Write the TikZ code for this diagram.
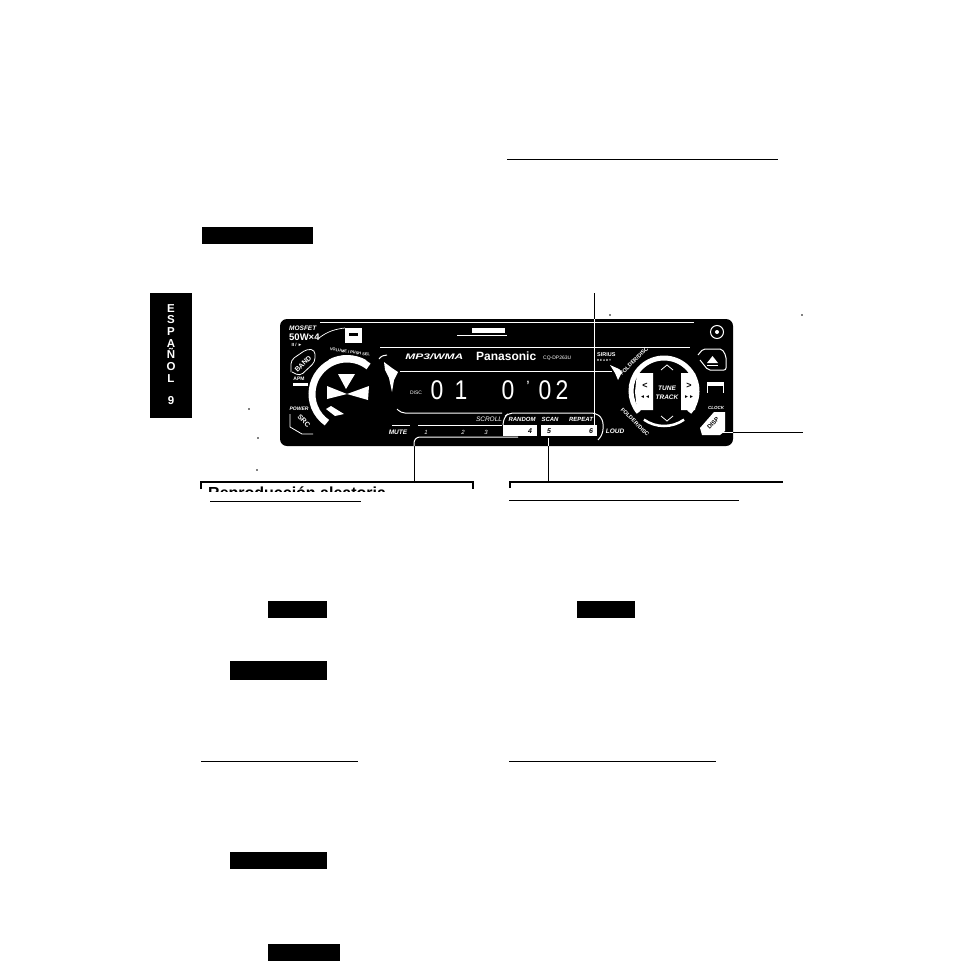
\documentclass[tikz,border=0pt]{standalone}
\usepackage{fontspec}
\setmainfont{Liberation Sans}
\usetikzlibrary{positioning,calc}
\tikzset{
  bar/.style={fill=black,draw=none,inner sep=0pt,minimum height=#1},
  bar/.default=17pt,
  rulerline/.style={line width=1pt},
  leader/.style={white,line width=1pt,rounded corners=6pt},
  panellabel/.style={text=white,inner sep=0pt,font=\bfseries\fontsize{5}{6}\selectfont},
  keylabel/.style={text=black,inner sep=0pt,font=\itshape\bfseries\fontsize{5.5}{6}\selectfont},
  digit/.style={text=white,inner sep=0pt,xscale=.85,font=\fontsize{27}{27}\selectfont},
  speck/.style={circle,fill=black,inner sep=0pt,minimum size=1.6pt}
}
\begin{document}
\begin{tikzpicture}[x=1pt,y=-1pt]
\useasboundingbox (0,0) rectangle (954,969);
% black bars of the page
\node[bar,minimum width=111pt,anchor=north west] (barA) at (202,227) {};
\node[bar,minimum width=59pt,anchor=north west] (barB) at (268,601) {};
\node[bar,minimum width=97pt,anchor=north west,minimum height=19pt] (barC) at (230,661) {};
\node[bar,minimum width=58pt,anchor=north west] (barD) at (577,601) {};
\node[bar,minimum width=97pt,anchor=north west] (barE) at (230,852) {};
\node[bar,minimum width=72pt,anchor=north west] (barF) at (268,944) {};
% rules
\draw[rulerline] (507,159) -- (778,159);
\draw[rulerline] (210,501) -- (361,501);
\draw[rulerline] (509,500) -- (739,500);
\draw[rulerline] (201,761) -- (358,761);
\draw[rulerline] (509,761) -- (716,761);
% side tab
\node[fill=black,inner sep=0pt,minimum width=42pt,minimum height=125pt,anchor=north west] (tab) at (150,293) {};
\node[text=white,inner sep=0pt,align=center,font=\bfseries\fontsize{11.5}{11.7}\selectfont,anchor=north] (tabtext) at (171,304)
  {E\\S\\P\\A\\Ñ\\O\\L\\[10pt]9};
% specks
\node[speck] (s1) at (249,409) {};
\node[speck] (s2) at (258,438) {};
\node[speck] (s3) at (257,470) {};
\node[speck] (s4) at (610,315) {};
\node[speck] (s5) at (802,315) {};
% face plate
\fill[black,rounded corners=7pt] (280,319) rectangle (733,446);
\draw[white,line width=.8pt] (320,322.5) -- (694,322.5);
\draw[white,line width=.8pt] (380,347) -- (690,347);
\draw[white,line width=.8pt] (400,371) -- (612,371);
\draw[white,line width=1pt,rounded corners=4pt] (397,409) -- (401,413) -- (502,413);
\fill[white] (472,328) rectangle (505,333);
\draw[white,line width=.8pt] (457,335) -- (507,335);
\fill[white] (345,328) rectangle (362,343);
\fill[black] (349,333) rectangle (358,336);
\draw[white,line width=.7pt] (319,338) .. controls (328,331) and (336,329) .. (345,328);
% splashes beside the knob and the ring
\fill[white] (384,362) -- (392,368) -- (398,372) -- (394,380) -- (392,392) -- (389,378) -- (385,370) -- cycle;
\draw[white,line width=1pt] (379,359) .. controls (381,356) and (384,355) .. (387,355);
\fill[white] (610,365) -- (619,369) -- (622,372) -- (618,380) -- (615,373) -- cycle;
% left knob
\coordinate (knobc) at (347,394);
\draw[white,line width=7pt] (knobc) ++(-52:35) arc (-52:-235:35);
\draw[white,line width=2pt] (knobc) ++(-60:38) arc (-60:-118:38);
\fill[white] (knobc) -- ++(-20,-8) -- ++(0,13) -- cycle;
\fill[white] (knobc) -- ++(22,-8) -- ++(-1,14) -- cycle;
\fill[white] (knobc) ++(-1,-5) -- ++(-8,-15) -- ++(17,0) -- cycle;
\fill[white] (331,406) -- (344,414) -- (335,416) -- (326,409) -- cycle;
% left column
\node[panellabel,anchor=west,font=\itshape\bfseries\fontsize{6.5}{7}\selectfont] (mosfet) at (289,328) {MOSFET};
\node[panellabel,anchor=west,font=\bfseries\fontsize{9.5}{9}\selectfont] (watts) at (289,337) {50W×4};
\node[panellabel,font=\bfseries\fontsize{4.5}{5}\selectfont] (pause) at (297,345) {II / ►};
\node[panellabel,anchor=center,rotate=45,font=\bfseries\fontsize{7}{7}\selectfont] (band) at (303,364) {BAND};
\draw[white,line width=.8pt,rounded corners=4pt] (291,372) -- (291,360) -- (307,349) -- (315,350) -- (315,362) -- (300,376) -- (292,372);
\node[panellabel] (apm) at (299,379) {APM};
\fill[white] (293,383) rectangle (308,386);
\node[panellabel,font=\itshape\bfseries\fontsize{5}{6}\selectfont] (power) at (299,409) {POWER};
\node[panellabel,rotate=-45,font=\bfseries\fontsize{7}{7}\selectfont] (src) at (304,421) {SRC};
\draw[white,line width=.8pt] (290,414) -- (290,427) -- (302,434) -- (313,434);
\node[panellabel,rotate=-8,font=\bfseries\fontsize{4}{5}\selectfont] (vol) at (350,352) {VOLUME / PUSH SEL};
% display
\node[panellabel,font=\itshape\bfseries\fontsize{8}{8}\selectfont,anchor=west,xscale=1.5] (mp3) at (405,357) {MP3/WMA};
\node[panellabel,font=\bfseries\fontsize{12}{12}\selectfont,anchor=west] (brand) at (476,356) {Panasonic};
\node[panellabel,font=\fontsize{5}{5}\selectfont,anchor=west] (model) at (543,358) {CQ-DP263U};
\node[panellabel,font=\bfseries\fontsize{5.5}{6}\selectfont,align=left,anchor=west] (sirius) at (597,357) {SIRIUS\\[-1pt]{\fontsize{3}{3}\selectfont R E A D Y}};
\node[panellabel,font=\fontsize{5}{5}\selectfont] (disc) at (416,393) {DISC};
\node[digit] (d1) at (437,390) {0};
\node[digit] (d2) at (461,390) {1};
\node[digit] (d3) at (508,390) {0};
\node[digit,font=\bfseries\fontsize{12}{12}\selectfont] (d4) at (528,385) {'};
\node[digit] (d5) at (545,390) {0};
\node[digit] (d6) at (562,390) {2};
% row of presets
\node[panellabel,font=\itshape\fontsize{6.5}{7}\selectfont] (scroll) at (489,419) {SCROLL};
\node[panellabel,font=\itshape\bfseries\fontsize{6.5}{7}\selectfont] (mute) at (398,432) {MUTE};
\node[panellabel,font=\itshape\fontsize{6}{6}\selectfont] (k1) at (426,432) {1};
\node[panellabel,font=\itshape\fontsize{6}{6}\selectfont] (k2) at (463,432) {2};
\node[panellabel,font=\itshape\fontsize{6}{6}\selectfont] (k3) at (486,432) {3};
\draw[white,line width=.7pt] (392,425) -- (410,425);
\draw[white,line width=.7pt] (418,425) -- (502,425);
\draw[white,line width=1pt,rounded corners=5pt] (503,425) -- (504,417) -- (509,413) -- (596,413) -- (603,419) -- (603,434) -- (598,440);
\fill[white] (503,425) rectangle (537,436);
\fill[white] (541,425) rectangle (597,436);
\node[panellabel,font=\itshape\bfseries\fontsize{6}{6}\selectfont] (random) at (522,419) {RANDOM};
\node[panellabel,font=\itshape\bfseries\fontsize{6}{6}\selectfont] (scan) at (550,419) {SCAN};
\node[panellabel,font=\itshape\bfseries\fontsize{6}{6}\selectfont] (repeat) at (581,419) {REPEAT};
\node[keylabel,font=\itshape\bfseries\fontsize{7}{7}\selectfont] (k4) at (530,431) {4};
\node[keylabel,font=\itshape\bfseries\fontsize{7}{7}\selectfont] (k5) at (549,431) {5};
\node[keylabel,font=\itshape\bfseries\fontsize{7}{7}\selectfont] (k6) at (591,431) {6};
\node[panellabel,font=\itshape\bfseries\fontsize{6.5}{7}\selectfont] (loud) at (615,431) {LOUD};
% right ring
\coordinate (ringc) at (664,391);
\draw[white,line width=5pt] (ringc) ++(40:33) arc (40:-220:33);
\draw[white,line width=2.5pt] (ringc) ++(-235:35) arc (-235:-305:35);
\fill[white] (637,373) -- (653,373) -- (653,410) -- (637,410) -- (635,392) -- cycle;
\fill[white] (681,373) -- (695,373) -- (698,392) -- (695,410) -- (681,410) -- cycle;
\node[keylabel,font=\bfseries\fontsize{9}{9}\selectfont] (prevt) at (645,386) {<};
\node[keylabel,font=\bfseries\fontsize{5}{5}\selectfont] (prevs) at (645,397) {◄◄};
\node[keylabel,font=\bfseries\fontsize{9}{9}\selectfont] (nextt) at (689,386) {>};
\node[keylabel,font=\bfseries\fontsize{5}{5}\selectfont] (nexts) at (689,397) {►►};
\node[panellabel,font=\itshape\bfseries\fontsize{6.5}{7}\selectfont] (tune) at (667,388) {TUNE};
\node[panellabel,font=\itshape\bfseries\fontsize{6.5}{7}\selectfont] (track) at (667,397) {TRACK};
\draw[white,line width=.8pt] (661,370) -- (667,365) -- (673,370);
\draw[white,line width=.8pt] (661,416) -- (667,421) -- (673,416);
\node[panellabel,rotate=45,font=\bfseries\fontsize{5.5}{6}\selectfont] (foldup) at (634,361) {FOLDER/DISC};
\node[panellabel,rotate=-45,font=\bfseries\fontsize{5.5}{6}\selectfont] (folddn) at (635,422) {FOLDER/DISC};
% right buttons
\node[circle,draw=white,line width=1pt,minimum size=13pt,inner sep=0pt] (eject0) at (717,332) {};
\node[circle,fill=white,minimum size=4pt,inner sep=0pt] (eject1) at (717,332) {};
\draw[white,line width=1pt,rounded corners=2pt] (698,355) -- (703,349) -- (722,349) -- (726,356) -- (726,370) -- (708,370) -- (700,360);
\fill[white] (707,363) -- (712.5,356) -- (718,363) -- cycle;
\draw[white,line width=1pt] (707,365.5) -- (718,365.5);
\fill[white] (707,382) rectangle (724,386);
\draw[white,line width=.8pt] (707.5,382) -- (707.5,393);
\draw[white,line width=.8pt] (723.5,382) -- (723.5,393);
\node[panellabel,font=\itshape\bfseries\fontsize{4.5}{5}\selectfont] (clock) at (716,408) {CLOCK};
\fill[white] (700,428) -- (714,412) -- (725,412) -- (725,431) -- (720,435) -- (702,435) -- cycle;
\node[keylabel,rotate=45,font=\bfseries\fontsize{6}{6}\selectfont] (disp) at (713,423) {DISP};
% leaders
\coordinate (topA) at (594,293);
\coordinate (midA) at (594,319);
\coordinate (botA) at (594,428);
\coordinate (rightB) at (803,432);
\coordinate (midB) at (733,432);
\coordinate (leftB) at (722,432);
\coordinate (downC) at (548,481);
\coordinate (midC) at (548,446);
\coordinate (upC) at (548,438);
\coordinate (downD) at (414,481);
\coordinate (midD) at (414,446);
\coordinate (cornerD) at (414,437);
\coordinate (endD) at (518,437);
\draw[line width=1pt] (topA) -- (midA);
\draw[white,line width=1pt] (midA) -- (botA);
\draw[line width=1pt] (midB) -- (rightB);
\draw[white,line width=1pt] (midB) -- (leftB);
\draw[line width=1pt] (midC) -- (downC);
\draw[white,line width=1pt] (midC) -- (upC);
\draw[line width=1pt] (midD) -- (downD);
\draw[leader] (midD) -- (cornerD) -- (endD);
% clipped boxes below the plate
\begin{scope}
\clip (195,480) rectangle (480,491.5);
\node[inner sep=0pt,anchor=base west,font=\bfseries\fontsize{16}{16}\selectfont] (titleA) at (208,498.5) {Reproducción aleatoria};
\end{scope}
\draw[line width=1.2pt] (201,489) -- (201,482) -- (473,482) -- (473,489);
\draw[line width=1.2pt] (510,488) -- (510,482) -- (783,482);
\end{tikzpicture}
\end{document}
